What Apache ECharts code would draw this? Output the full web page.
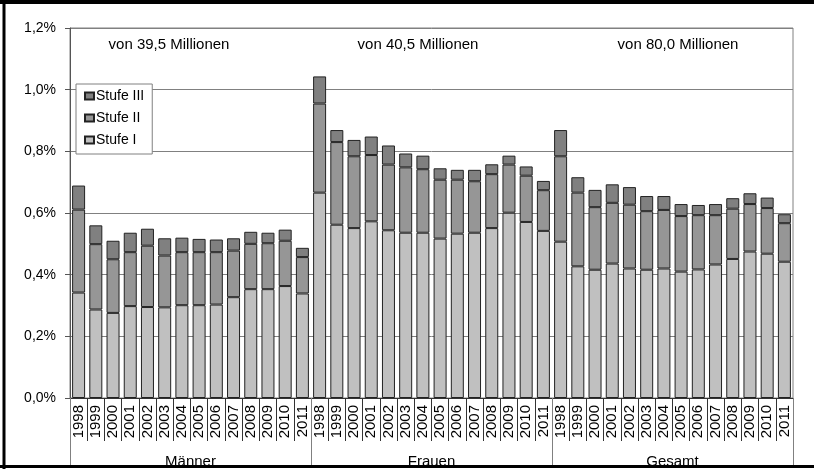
<!DOCTYPE html>
<html>
<head>
<meta charset="utf-8">
<script src="https://cdn.jsdelivr.net/npm/echarts@6/dist/echarts.min.js"></script>
<style>html,body{margin:0;padding:0;background:#fff}#c{width:814px;height:469px}</style>
</head>
<body>
<div id="c"></div>
<script>
const years = ['1998','1999','2000','2001','2002','2003','2004','2005','2006','2007','2008','2009','2010','2011'];
const groups = ['Männer','Frauen','Gesamt'];
const groupNotes = ['von 39,5 Millionen','von 40,5 Millionen','von 80,0 Millionen'];
const yTicks = [0, 0.2, 0.4, 0.6, 0.8, 1.0, 1.2];

// values in percent, order: Männer 1998-2011, Frauen 1998-2011, Gesamt 1998-2011
const stufeI = [
  0.342,0.287,0.276,0.298,0.295,0.294,0.301,0.301,0.303,0.327,0.353,0.353,0.363,0.339,
  0.666,0.562,0.551,0.573,0.544,0.536,0.536,0.517,0.533,0.536,0.551,0.601,0.571,0.542,
  0.507,0.427,0.416,0.436,0.420,0.416,0.420,0.410,0.417,0.433,0.451,0.475,0.468,0.442
];
const stufeII = [
  0.269,0.212,0.174,0.175,0.199,0.168,0.172,0.172,0.170,0.151,0.147,0.149,0.147,0.118,
  0.289,0.268,0.233,0.215,0.213,0.212,0.206,0.191,0.175,0.167,0.175,0.156,0.150,0.132,
  0.277,0.239,0.203,0.197,0.207,0.190,0.190,0.180,0.176,0.160,0.163,0.154,0.148,0.125
];
const stufeIII = [
  0.078,0.061,0.060,0.063,0.055,0.056,0.047,0.043,0.041,0.040,0.039,0.034,0.036,0.030,
  0.088,0.039,0.053,0.060,0.062,0.045,0.044,0.037,0.032,0.037,0.032,0.029,0.030,0.030,
  0.085,0.050,0.056,0.060,0.057,0.049,0.045,0.039,0.033,0.036,0.034,0.035,0.034,0.029
];

const categories = [].concat(years, years, years);
const FONT = "'Liberation Sans', Arial, sans-serif";
const notePos = [169, 418, 678];

const chart = echarts.init(document.getElementById('c'), null, {renderer: 'canvas'});
const barStyle = (c) => ({color: c, borderColor: '#222', borderWidth: 1});

chart.setOption({
  animation: false,
  backgroundColor: '#fff',
  textStyle: {fontFamily: FONT},
  grid: {left: 70, right: 21, top: 28, bottom: 69, show: true, borderColor: '#808080', borderWidth: 1, containLabel: false},
  legend: {
    data: ['Stufe III', 'Stufe II', 'Stufe I'],
    orient: 'vertical', left: 76, top: 84,
    backgroundColor: '#fff', borderColor: '#808080', borderWidth: 1,
    padding: [5, 8, 7, 8], itemGap: 8, itemWidth: 9, itemHeight: 7,
    icon: 'rect',
    textStyle: {fontFamily: FONT, fontSize: 14, color: '#000', padding: [0, 0, 0, -3]}
  },
  xAxis: [
    {
      type: 'category', data: categories, position: 'bottom', gridIndex: 0,
      axisLine: {show: true, lineStyle: {color: '#333'}},
      axisTick: {show: true, interval: 0, length: 43, lineStyle: {color: '#333'}},
      axisLabel: {interval: 0, rotate: 90, margin: 7, fontSize: 15, color: '#000', fontFamily: FONT},
      splitLine: {show: false}
    },
    {
      type: 'category', data: groups, position: 'bottom', gridIndex: 0,
      axisLine: {show: false},
      axisTick: {show: true, interval: 0, length: 69, lineStyle: {color: '#808080'}},
      axisLabel: {interval: 0, margin: 56, fontSize: 15, color: '#000', fontFamily: FONT},
      splitLine: {show: false}
    }
  ],
  yAxis: {
    type: 'value', min: yTicks[0], max: yTicks[yTicks.length - 1], interval: 0.2,
    axisLine: {show: true, lineStyle: {color: '#555'}},
    axisTick: {show: true, length: 5, lineStyle: {color: '#555'}},
    axisLabel: {margin: 14, fontSize: 14, color: '#000', fontFamily: FONT,
      formatter: (v) => v.toFixed(1).replace('.', ',') + '%'},
    splitLine: {show: true, lineStyle: {color: '#808080', width: 1}}
  },
  series: [
    {name: 'Stufe I', type: 'bar', stack: 's', barWidth: 13, data: stufeI, itemStyle: barStyle('#c0c0c0')},
    {name: 'Stufe II', type: 'bar', stack: 's', barWidth: 13, data: stufeII, itemStyle: barStyle('#969696')},
    {name: 'Stufe III', type: 'bar', stack: 's', barWidth: 13, data: stufeIII, itemStyle: barStyle('#808080')}
  ],
  graphic: groupNotes.map((t, i) => ({
    type: 'text', x: notePos[i], y: 45, z: 50,
    style: {text: t, font: '15px ' + FONT, fill: '#000', textAlign: 'center', textVerticalAlign: 'middle'}
  })).concat([
    {type: 'line', z: 100, shape: {x1: 0, y1: 2, x2: 814, y2: 2}, style: {stroke: '#000', lineWidth: 4}},
    {type: 'line', z: 100, shape: {x1: 4, y1: 0, x2: 4, y2: 469}, style: {stroke: '#000', lineWidth: 3}},
    {type: 'line', z: 100, shape: {x1: 0, y1: 466.5, x2: 814, y2: 466.5}, style: {stroke: '#000', lineWidth: 3}}
  ])
});
</script>
</body>
</html>
